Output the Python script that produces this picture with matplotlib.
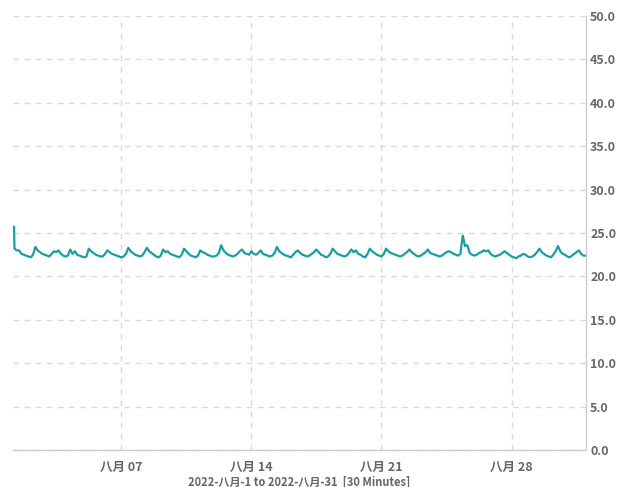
import numpy as np
import pandas as pd
import matplotlib
matplotlib.use('Agg')
import matplotlib.pyplot as plt
import matplotlib.dates as mdates

plt.rcParams['font.family'] = ['Noto Sans CJK SC', 'DejaVu Sans']

# first reading, a short spike at the start of the month
start_time = '2022-08-01 05:30'
start_value = 25.7

# readings every 3 hours from 2022-08-01 06:00 (one row per day)
temps = [
    23.2, 23.0, 23.0, 22.6, 22.5, 22.4,                      # Aug 1 (from 06:00)
    22.3, 22.2, 22.5, 23.4, 23.0, 22.8, 22.6, 22.5,          # Aug 2
    22.4, 22.3, 22.6, 22.9, 22.8, 23.0, 22.6, 22.4,          # Aug 3
    22.3, 22.4, 23.1, 22.6, 22.9, 22.5, 22.4, 22.3,          # Aug 4
    22.2, 22.3, 23.2, 22.9, 22.7, 22.5, 22.4, 22.3,          # Aug 5
    22.3, 22.6, 23.0, 22.8, 22.6, 22.5, 22.4, 22.3,          # Aug 6
    22.2, 22.3, 22.6, 23.3, 22.9, 22.7, 22.5, 22.4,          # Aug 7
    22.3, 22.4, 22.8, 23.3, 22.9, 22.7, 22.5, 22.3,          # Aug 8
    22.2, 22.4, 23.1, 22.8, 22.9, 22.6, 22.5, 22.4,          # Aug 9
    22.3, 22.2, 22.5, 23.2, 22.9, 22.6, 22.4, 22.3,          # Aug 10
    22.2, 22.4, 23.0, 22.8, 22.7, 22.5, 22.4, 22.3,          # Aug 11
    22.3, 22.4, 22.7, 23.6, 23.0, 22.7, 22.5, 22.4,          # Aug 12
    22.3, 22.4, 22.6, 22.9, 23.1, 22.7, 22.6, 22.5,          # Aug 13
    22.9, 22.6, 22.5, 22.7, 23.0, 22.6, 22.5, 22.4,          # Aug 14
    22.3, 22.4, 22.7, 23.4, 22.9, 22.7, 22.5, 22.4,          # Aug 15
    22.3, 22.2, 22.5, 22.8, 23.0, 22.7, 22.5, 22.4,          # Aug 16
    22.3, 22.4, 22.6, 22.8, 23.1, 22.8, 22.5, 22.4,          # Aug 17
    22.2, 22.3, 22.6, 23.2, 22.9, 22.6, 22.5, 22.4,          # Aug 18
    22.3, 22.4, 22.7, 23.1, 22.8, 23.0, 22.6, 22.5,          # Aug 19
    22.3, 22.2, 22.6, 23.2, 22.9, 22.7, 22.5, 22.4,          # Aug 20
    22.3, 22.6, 23.2, 22.9, 22.7, 22.6, 22.5, 22.4,          # Aug 21
    22.3, 22.4, 22.6, 22.8, 23.1, 22.8, 22.6, 22.4,          # Aug 22
    22.3, 22.4, 22.6, 22.8, 23.1, 22.7, 22.6, 22.5,          # Aug 23
    22.4, 22.3, 22.4, 22.6, 22.8, 22.9, 22.8, 22.6,          # Aug 24
    22.5, 22.4, 22.6, 24.7, 23.5, 23.6, 22.7, 22.5,          # Aug 25
    22.4, 22.5, 22.7, 22.8, 23.0, 22.9, 23.0, 22.6,          # Aug 26
    22.4, 22.3, 22.4, 22.5, 22.7, 22.9, 22.7, 22.5,          # Aug 27
    22.3, 22.2, 22.1, 22.3, 22.4, 22.6, 22.5, 22.3,          # Aug 28
    22.2, 22.3, 22.5, 22.8, 23.2, 22.8, 22.6, 22.4,          # Aug 29
    22.3, 22.2, 22.5, 22.9, 23.5, 22.9, 22.6, 22.5,          # Aug 30
    22.3, 22.2, 22.4, 22.6, 22.8, 23.0, 22.6, 22.4,          # Aug 31
    22.4,                                                    # Sep 1 00:00
]

tick_dates = ['2022-08-07', '2022-08-14', '2022-08-21', '2022-08-28']
tick_labels = ['八月 07', '八月 14', '八月 21', '八月 28']
y_ticks = [0, 5, 10, 15, 20, 25, 30, 35, 40, 45, 50]
x_title = '2022-八月-1 to 2022-八月-31  [30 Minutes]'

times = pd.date_range('2022-08-01 06:00', periods=len(temps), freq='3h')
times = [pd.Timestamp(start_time)] + list(times)
values = [start_value] + temps

fig = plt.figure(figsize=(6.21, 4.87), dpi=100)
ax = fig.add_axes([0.021, 0.076, 0.9226, 0.891])

ax.plot(times, values, color='#1a9ea6', linewidth=1.6)

ax.set_xlim(pd.Timestamp('2022-08-01 04:10'), pd.Timestamp('2022-09-01 00:10'))
ax.set_ylim(0, 50)

ax.yaxis.tick_right()
ax.set_yticks(y_ticks)
ax.set_yticklabels(['%.1f' % v for v in y_ticks])
ax.set_xticks([pd.Timestamp(d) for d in tick_dates])
ax.set_xticklabels(tick_labels)

ax.tick_params(axis='both', length=0, colors='#666666', labelsize=9)
ax.tick_params(axis='y', pad=3)
ax.tick_params(axis='x', pad=8)
for lab in ax.get_xticklabels() + ax.get_yticklabels():
    lab.set_fontweight('bold')

ax.grid(True, color='#d9d9d9', linestyle=(0, (4, 4)), linewidth=1)
ax.set_axisbelow(True)

for s in ['top', 'left']:
    ax.spines[s].set_visible(False)
for s in ['right', 'bottom']:
    ax.spines[s].set_color('#cccccc')
    ax.spines[s].set_linewidth(1)

ax.set_xlabel(x_title, fontsize=8, color='#666666', fontweight='bold', labelpad=1)

fig.savefig('out.png', dpi=100)
